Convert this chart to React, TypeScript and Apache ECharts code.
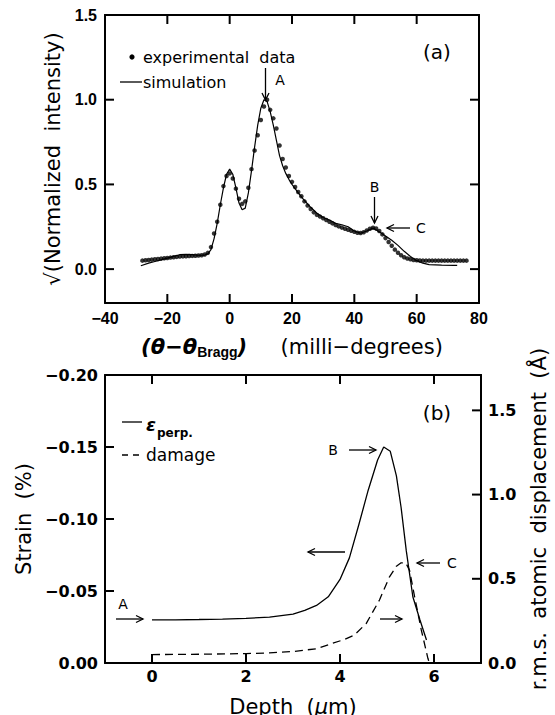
import React, { useEffect, useRef } from "react";
import * as echarts from "echarts";

// ---------- Panel (a) data ----------
const expX = [-28, -27, -26, -25, -24, -23, -22, -21, -20, -19, -18, -17, -16, -15, -14, -13, -12, -11, -10, -9, -8, -7, -6, -5, -4, -3, -2, -1, 0, 1, 2, 3, 4, 5, 6, 7, 8, 9, 10, 11, 12, 13, 14, 15, 16, 17, 18, 19, 20, 21, 22, 23, 24, 25, 26, 27, 28, 29, 30, 31, 32, 33, 34, 35, 36, 37, 38, 39, 40, 41, 42, 43, 44, 45, 46, 47, 48, 49, 50, 51, 52, 53, 54, 55, 56, 57, 58, 59, 60, 61, 62, 63, 64, 65, 66, 67, 68, 69, 70, 71, 72, 73, 74, 75, 76];
const expY = [0.050, 0.052, 0.054, 0.056, 0.058, 0.060, 0.062, 0.064, 0.066, 0.068, 0.070, 0.072, 0.074, 0.075, 0.076, 0.077, 0.078, 0.079, 0.080, 0.082, 0.086, 0.096, 0.13, 0.21, 0.28, 0.38, 0.49, 0.55, 0.565, 0.535, 0.475, 0.415, 0.385, 0.40, 0.48, 0.59, 0.70, 0.79, 0.88, 0.96, 1.00, 0.94, 0.89, 0.83, 0.73, 0.65, 0.60, 0.55, 0.515, 0.485, 0.455, 0.43, 0.40, 0.375, 0.355, 0.335, 0.32, 0.31, 0.30, 0.29, 0.28, 0.27, 0.26, 0.252, 0.245, 0.238, 0.232, 0.226, 0.22, 0.215, 0.213, 0.218, 0.228, 0.238, 0.244, 0.24, 0.225, 0.205, 0.183, 0.16, 0.138, 0.115, 0.097, 0.082, 0.07, 0.063, 0.058, 0.054, 0.052, 0.051, 0.050, 0.050, 0.050, 0.050, 0.050, 0.050, 0.050, 0.050, 0.050, 0.050, 0.050, 0.050, 0.050, 0.050, 0.050];
const simX = [-28.5, -26, -24, -22, -20, -18, -16, -14, -12, -10, -8, -7, -6, -5, -4, -3, -2, -1, 0, 1, 2, 3, 4, 5, 6, 7, 8, 9, 10, 11, 12, 13, 14, 15, 16, 17, 18, 19, 20, 22, 24, 26, 28, 30, 32, 34, 36, 38, 40, 42, 44, 46, 48, 50, 52, 54, 56, 58, 60, 62, 64, 68, 72, 73];
const simY = [0.020, 0.035, 0.045, 0.055, 0.065, 0.075, 0.085, 0.087, 0.085, 0.082, 0.083, 0.09, 0.115, 0.18, 0.27, 0.38, 0.48, 0.56, 0.59, 0.56, 0.48, 0.39, 0.35, 0.36, 0.45, 0.58, 0.72, 0.85, 0.95, 1.00, 0.99, 0.93, 0.85, 0.76, 0.67, 0.61, 0.565, 0.53, 0.50, 0.45, 0.405, 0.365, 0.33, 0.305, 0.29, 0.27, 0.262, 0.25, 0.225, 0.212, 0.225, 0.242, 0.22, 0.195, 0.17, 0.14, 0.105, 0.075, 0.05, 0.035, 0.027, 0.024, 0.022, 0.022];

// ---------- Panel (b) data ----------
const strainDepth = [0, 0.5, 1, 1.5, 2, 2.5, 3, 3.25, 3.5, 3.75, 4, 4.2, 4.4, 4.6, 4.8, 4.93, 5.07, 5.2, 5.3, 5.41, 5.55, 5.7, 5.84];
const strainVal = [-0.030, -0.030, -0.0302, -0.0305, -0.031, -0.0318, -0.034, -0.0365, -0.040, -0.046, -0.058, -0.073, -0.096, -0.120, -0.141, -0.150, -0.147, -0.130, -0.108, -0.078, -0.046, -0.030, -0.016];
const damageDepth = [0, 1, 2, 2.5, 3, 3.5, 3.84, 4.1, 4.3, 4.56, 4.84, 5.05, 5.2, 5.3, 5.4, 5.48, 5.59, 5.73, 5.87, 5.9];
const damageVal = [0.05, 0.052, 0.056, 0.06, 0.068, 0.085, 0.117, 0.14, 0.165, 0.235, 0.374, 0.51, 0.575, 0.595, 0.595, 0.55, 0.39, 0.196, 0.028, 0.0];

// ---------- Tick values ----------
const topXTicks = [-40, -20, 0, 20, 40, 60, 80];
const topYTicks = [0, 0.5, 1.0, 1.5];
const botXTicks = [0, 2, 4, 6];
const botYTicks = [-0.2, -0.15, -0.1, -0.05, 0];
const botY2Ticks = [0, 0.5, 1.0, 1.5];

// axis extents
const TOP_X = [-40, 80];
const TOP_Y = [-0.2, 1.5];
const BOT_X = [-1, 7];
const BOT_Y = [-0.2, 0];
const BOT_Y2 = [0, 1.71];

const BLACK = "#000";
const NB = "\u00A0";
const LW = 1.3;

// grid boxes (layout)
const G0 = { left: 105, top: 15, width: 374, height: 288 };
const G1 = { left: 105, top: 375, width: 376, height: 288 };
const TICK_PX = 9;

function minusFmt(v: number, d: number) {
  const s = Math.abs(v).toFixed(d);
  return v < -1e-9 ? "\u2212" + s : s;
}

function seg(x1: number, y1: number, x2: number, y2: number, w = LW) {
  return { type: "line", silent: true, z: 50, shape: { x1, y1, x2, y2 }, style: { stroke: BLACK, lineWidth: w } };
}

function arrow(x1: number, y1: number, x2: number, y2: number) {
  const ang = Math.atan2(y2 - y1, x2 - x1);
  const L = 7, W = 3.5;
  const bx = x2 - L * Math.cos(ang), by = y2 - L * Math.sin(ang);
  const px = -Math.sin(ang) * W, py = Math.cos(ang) * W;
  return [
    seg(x1, y1, x2, y2, LW),
    { type: "polyline", silent: true, z: 50, shape: { points: [[bx + px, by + py], [x2, y2], [bx - px, by - py]] }, style: { stroke: BLACK, lineWidth: LW, fill: null } },
  ];
}

function txt(text: string, x: number, y: number, size: number, opts: any = {}) {
  return {
    type: "text",
    silent: true,
    z: 50,
    style: {
      text, x, y,
      fill: BLACK,
      fontSize: size,
      fontFamily: opts.family || "DejaVu Sans",
      fontWeight: opts.weight || "normal",
      fontStyle: opts.style || "normal",
      align: opts.align || "center",
      verticalAlign: "middle",
      textAlign: opts.align || "center",
      textVerticalAlign: "middle",
    },
  };
}

// short two-point line series used as tick marks and frame (drawn through the axes' scales)
function segSeries(xi: number, yi: number, pts: number[][], w = 2) {
  return {
    type: "line", xAxisIndex: xi, yAxisIndex: yi, data: pts, showSymbol: false, symbol: "none",
    clip: false, silent: true, z: 5, animation: false,
    lineStyle: { color: BLACK, width: w }, itemStyle: { color: BLACK },
  };
}

function tickSeries() {
  const out: any[] = [];
  // panel (a)
  const dyA = ((TOP_Y[1] - TOP_Y[0]) * TICK_PX) / G0.height;
  const dxA = ((TOP_X[1] - TOP_X[0]) * TICK_PX) / G0.width;
  out.push(segSeries(0, 0, [[TOP_X[0], TOP_Y[0]], [TOP_X[1], TOP_Y[0]], [TOP_X[1], TOP_Y[1]], [TOP_X[0], TOP_Y[1]], [TOP_X[0], TOP_Y[0]]]));
  topXTicks.forEach((v) => {
    out.push(segSeries(0, 0, [[v, TOP_Y[0]], [v, TOP_Y[0] + dyA]]));
    out.push(segSeries(0, 0, [[v, TOP_Y[1]], [v, TOP_Y[1] - dyA]]));
  });
  topYTicks.forEach((v) => {
    out.push(segSeries(0, 0, [[TOP_X[0], v], [TOP_X[0] + dxA, v]]));
    out.push(segSeries(0, 0, [[TOP_X[1], v], [TOP_X[1] - dxA, v]]));
  });
  // panel (b)
  const dyB = ((BOT_Y[1] - BOT_Y[0]) * TICK_PX) / G1.height;
  const dxB = ((BOT_X[1] - BOT_X[0]) * TICK_PX) / G1.width;
  out.push(segSeries(2, 2, [[BOT_X[0], BOT_Y[0]], [BOT_X[1], BOT_Y[0]], [BOT_X[1], BOT_Y[1]], [BOT_X[0], BOT_Y[1]], [BOT_X[0], BOT_Y[0]]]));
  botXTicks.forEach((v) => {
    // axis is inverted: 0 at the bottom, -0.2 at the top
    out.push(segSeries(2, 2, [[v, BOT_Y[1]], [v, BOT_Y[1] - dyB]]));
    out.push(segSeries(2, 2, [[v, BOT_Y[0]], [v, BOT_Y[0] + dyB]]));
  });
  botYTicks.forEach((v) => {
    out.push(segSeries(2, 2, [[BOT_X[0], v], [BOT_X[0] + dxB, v]]));
  });
  botY2Ticks.forEach((v) => {
    out.push(segSeries(2, 3, [[BOT_X[1], v], [BOT_X[1] - dxB, v]]));
  });
  return out;
}

export default function App() {
  const ref = useRef<HTMLDivElement>(null);
  useEffect(() => {
    if (!ref.current) return;
    const chart = echarts.init(ref.current, undefined, { renderer: "svg" });

    const axLine = { show: true, onZero: false, lineStyle: { color: BLACK, width: 2 } };
    const noTick = { show: false };
    const topLbl = { color: BLACK, fontFamily: "Liberation Sans", fontWeight: "bold", fontSize: 16 };
    const botLbl = { color: BLACK, fontFamily: "DejaVu Sans", fontWeight: "bold", fontSize: 16 };
    const titleStyle = { color: BLACK, fontFamily: "DejaVu Sans", fontSize: 21 };

    const graphic: any[] = [
      // panel (a) legend and annotations
      { type: "circle", silent: true, z: 50, shape: { cx: 132, cy: 57, r: 2.6 }, style: { fill: BLACK } },
      txt("experimental" + NB + NB + "data", 143, 57, 16, { align: "left" }),
      seg(120, 82, 142, 82, LW),
      txt("simulation", 143, 82, 16, { align: "left" }),
      txt("(a)", 437, 52, 20),
      ...arrow(265.5, 68, 265.5, 100),
      txt("A", 280, 80, 14),
      ...arrow(374.5, 197, 374.5, 223),
      txt("B", 374.5, 187, 14),
      ...arrow(410, 228, 387, 228),
      txt("C", 421, 228, 14),
      // panel (b) legend and annotations
      seg(122, 422, 142, 422, LW),
      txt("\u03B5", 146, 424, 18, { align: "left", weight: "bold", style: "italic" }),
      txt("perp.", 157, 433, 12, { align: "left", weight: "bold" }),
      { type: "line", silent: true, z: 50, shape: { x1: 122, y1: 455, x2: 142, y2: 455 }, style: { stroke: BLACK, lineWidth: LW, lineDash: [6, 5] } },
      txt("damage", 146, 455, 17, { align: "left" }),
      txt("(b)", 437, 413, 20),
      txt("A", 123, 604, 14),
      ...arrow(116, 619, 143, 619),
      txt("B", 333, 450, 14),
      ...arrow(349, 450, 376, 450),
      ...arrow(345, 552, 308, 552),
      txt("C", 452, 563, 14),
      ...arrow(440, 563, 417, 563),
      ...arrow(380, 619, 402, 619),
    ];

    chart.setOption({
      animation: false,
      backgroundColor: "#fff",
      grid: [
        { ...G0, show: false, borderWidth: 0, containLabel: false, outerBoundsMode: "none" },
        { ...G1, show: false, borderWidth: 0, containLabel: false, outerBoundsMode: "none" },
      ],
      xAxis: [
        {
          gridIndex: 0, type: "value", position: "bottom", min: TOP_X[0], max: TOP_X[1],
          axisLine: axLine, axisTick: noTick, splitLine: { show: false },
          axisLabel: { ...topLbl, margin: 7, customValues: topXTicks, formatter: (v: number) => minusFmt(v, 0) },
          name: "{t|(\u03B8\u2212\u03B8}{s|Bragg}{t|)}" + NB + NB + NB + NB + NB + "(milli\u2212degrees)",
          nameLocation: "middle", nameGap: 32,
          nameTextStyle: {
            ...titleStyle,
            rich: {
              t: { fontFamily: "DejaVu Sans", fontSize: 21, fontWeight: "bold", fontStyle: "italic", color: BLACK },
              s: { fontFamily: "Liberation Sans", fontSize: 14, fontWeight: "bold", color: BLACK, padding: [10, 0, 0, 0] },
            },
          },
        },
        {
          gridIndex: 0, type: "value", position: "top", min: TOP_X[0], max: TOP_X[1],
          axisLine: axLine, axisTick: noTick, splitLine: { show: false }, axisLabel: { show: false },
        },
        {
          gridIndex: 1, type: "value", position: "bottom", min: BOT_X[0], max: BOT_X[1],
          axisLine: axLine, axisTick: noTick, splitLine: { show: false },
          axisLabel: { ...botLbl, margin: 5, customValues: botXTicks, formatter: (v: number) => String(v) },
          name: "Depth" + NB + NB + "({m|\u03BC}m)",
          nameLocation: "middle", nameGap: 33,
          nameTextStyle: { ...titleStyle, rich: { m: { fontFamily: "DejaVu Sans", fontSize: 21, fontStyle: "italic", color: BLACK } } },
        },
        {
          gridIndex: 1, type: "value", position: "top", min: BOT_X[0], max: BOT_X[1],
          axisLine: axLine, axisTick: noTick, splitLine: { show: false }, axisLabel: { show: false },
        },
      ],
      yAxis: [
        {
          gridIndex: 0, type: "value", position: "left", min: TOP_Y[0], max: TOP_Y[1],
          axisLine: axLine, axisTick: noTick, splitLine: { show: false },
          axisLabel: { ...topLbl, margin: 8, customValues: topYTicks, formatter: (v: number) => minusFmt(v, 1) },
          name: "\u221A(Normalized" + NB + NB + "intensity)", nameLocation: "middle", nameGap: 42, nameTextStyle: titleStyle,
        },
        {
          gridIndex: 0, type: "value", position: "right", min: TOP_Y[0], max: TOP_Y[1],
          axisLine: axLine, axisTick: noTick, splitLine: { show: false }, axisLabel: { show: false },
        },
        {
          gridIndex: 1, type: "value", position: "left", min: BOT_Y[0], max: BOT_Y[1], inverse: true,
          axisLine: axLine, axisTick: noTick, splitLine: { show: false },
          axisLabel: { ...botLbl, margin: 7, customValues: botYTicks, formatter: (v: number) => minusFmt(v, 2) },
          name: "Strain" + NB + NB + "(%)", nameLocation: "middle", nameGap: 66, nameTextStyle: titleStyle,
        },
        {
          gridIndex: 1, type: "value", position: "right", min: BOT_Y2[0], max: BOT_Y2[1],
          axisLine: axLine, axisTick: noTick, splitLine: { show: false },
          axisLabel: { ...botLbl, margin: 7, customValues: botY2Ticks, formatter: (v: number) => v.toFixed(1) },
          name: "r.m.s." + NB + NB + "atomic" + NB + NB + "displacement" + NB + NB + "(\u00C5)",
          nameLocation: "middle", nameGap: 47, nameTextStyle: titleStyle,
        },
      ],
      series: [
        {
          type: "scatter", xAxisIndex: 0, yAxisIndex: 0, symbol: "circle", symbolSize: 4.5,
          itemStyle: { color: BLACK }, data: expX.map((x, i) => [x, expY[i]]), silent: true,
        },
        {
          type: "line", xAxisIndex: 0, yAxisIndex: 0, showSymbol: false, smooth: false,
          lineStyle: { color: BLACK, width: 1.2 }, data: simX.map((x, i) => [x, simY[i]]), silent: true,
        },
        {
          type: "line", xAxisIndex: 2, yAxisIndex: 2, showSymbol: false,
          lineStyle: { color: BLACK, width: LW }, data: strainDepth.map((x, i) => [x, strainVal[i]]), silent: true,
        },
        {
          type: "line", xAxisIndex: 2, yAxisIndex: 3, showSymbol: false,
          lineStyle: { color: BLACK, width: LW, type: [8, 5] }, data: damageDepth.map((x, i) => [x, damageVal[i]]), silent: true,
        },
        ...tickSeries(),
      ],
      graphic,
    });

    return () => chart.dispose();
  }, []);

  return <div ref={ref} style={{ position: "fixed", left: 0, top: 0, width: 555, height: 715, background: "#fff" }} />;
}
